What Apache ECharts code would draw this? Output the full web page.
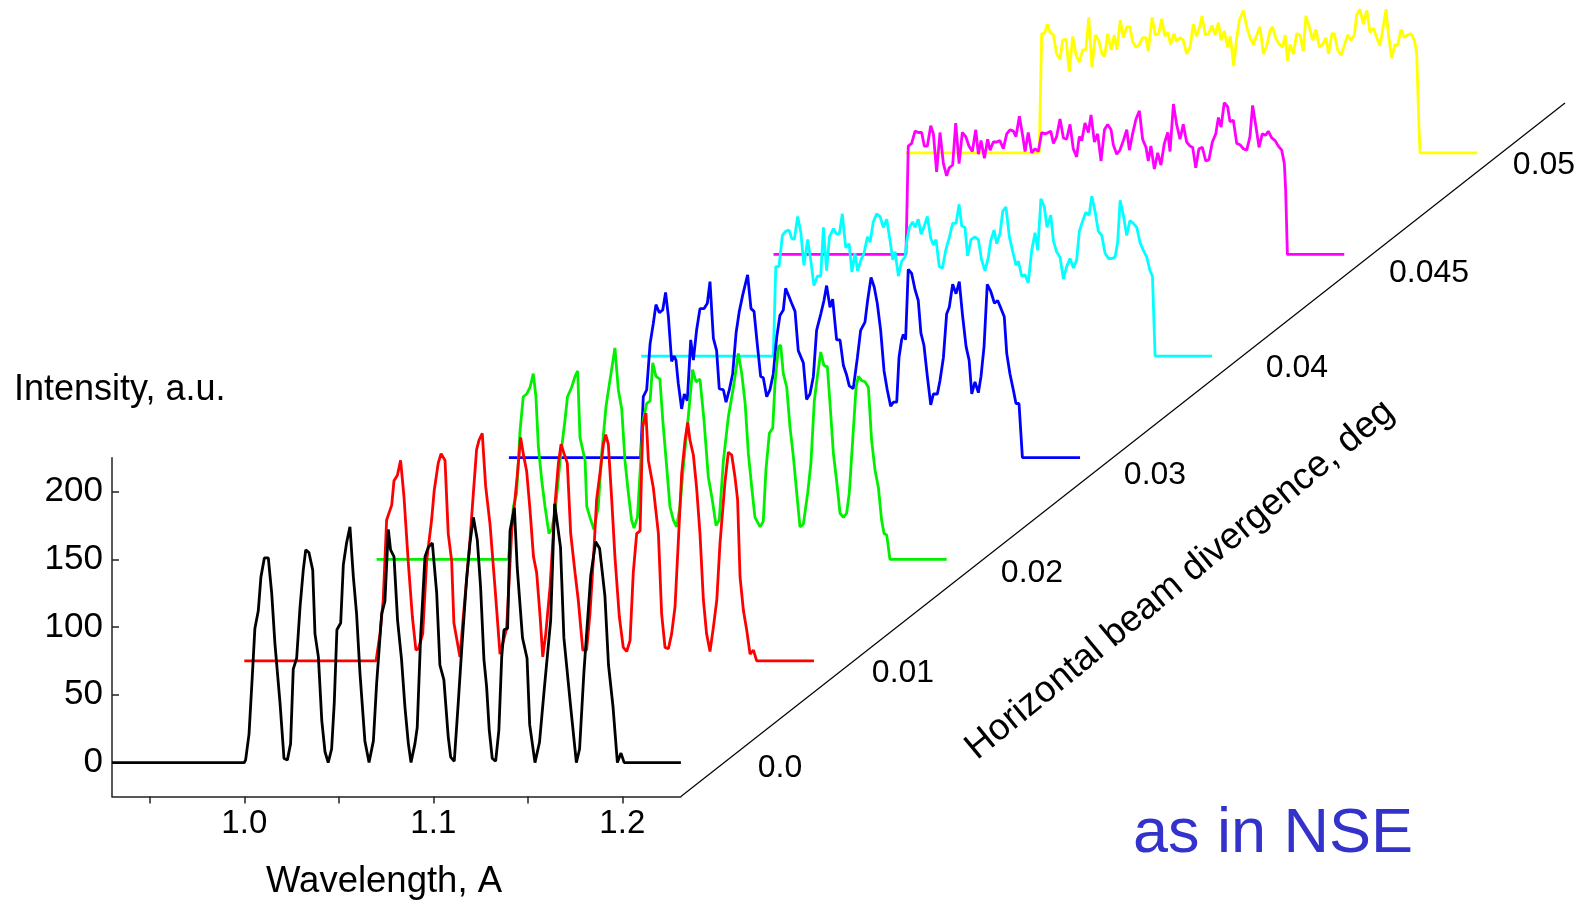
<!DOCTYPE html>
<html><head><meta charset="utf-8">
<script src="https://cdn.jsdelivr.net/npm/echarts@6/dist/echarts.min.js"></script>
<style>html,body{margin:0;padding:0;background:#fff}#c{width:1595px;height:904px}</style>
</head><body><div id="c"></div>
<script>
// ---- data (wavelength in A, intensity in a.u.), each curve in its own frame ----
const divergenceLabels = ['0.0','0.01','0.02','0.03','0.04','0.045','0.05'];
const xTickValues = [0.95,1.0,1.05,1.1,1.15,1.2];
const xLabelValues = [1.0,1.1,1.2];
const yTickValues = [0,50,100,150,200];

const div000 = [[0.93,0],[1.0,0],[1.0007,2],[1.0025,21],[1.0042,63],[1.0056,99],[1.0074,112],[1.0088,137],[1.0106,151],[1.0127,151],[1.0145,125],[1.0162,88],[1.0189,44],[1.021,3],[1.0228,2],[1.0245,14],[1.0259,69],[1.0277,77],[1.0295,115],[1.0312,142],[1.0325,157],[1.0342,155],[1.0362,142],[1.0374,95],[1.0392,78],[1.041,31],[1.0427,8],[1.0444,0],[1.0462,10],[1.0476,44],[1.049,98],[1.051,103],[1.0524,146],[1.0541,162],[1.0559,174],[1.0577,137],[1.0594,110],[1.0612,66],[1.0638,16],[1.066,0],[1.0683,16],[1.07,58],[1.0727,110],[1.0744,119],[1.0762,172],[1.0774,157],[1.0792,152],[1.0811,105],[1.0832,76],[1.085,41],[1.0868,14],[1.0882,0],[1.0903,14],[1.0915,26],[1.0933,93],[1.0956,152],[1.0974,159],[1.0995,162],[1.1018,125],[1.1035,72],[1.1056,61],[1.1079,19],[1.1092,4],[1.1111,1],[1.1132,44],[1.115,83],[1.1176,135],[1.1194,162],[1.1212,181],[1.1233,164],[1.125,130],[1.1268,76],[1.1282,56],[1.1296,24],[1.1312,3],[1.133,1],[1.1347,24],[1.1362,78],[1.1374,98],[1.1393,99],[1.1406,171],[1.1429,188],[1.1444,144],[1.1472,92],[1.1496,77],[1.151,28],[1.1538,0],[1.1562,15],[1.1585,51],[1.1621,105],[1.1642,191],[1.1673,159],[1.1691,92],[1.1727,41],[1.1757,0],[1.1774,10],[1.1797,67],[1.1833,138],[1.1859,163],[1.188,158],[1.1908,123],[1.1927,72],[1.1951,41],[1.1974,0],[1.1993,7],[1.201,0],[1.231,0]];

const div001 = [[0.93,0],[0.9997,0],[1.0018,20],[1.0035,45],[1.0053,104],[1.008,115],[1.0092,133],[1.011,137],[1.0127,148],[1.0145,121],[1.0168,72],[1.0189,33],[1.0208,8],[1.0221,9],[1.0244,20],[1.0265,74],[1.0291,104],[1.0305,126],[1.0326,146],[1.0341,153],[1.0362,148],[1.0379,94],[1.0397,74],[1.0409,28],[1.0441,3],[1.0459,33],[1.0476,60],[1.0494,89],[1.0512,124],[1.0529,156],[1.0542,163],[1.0559,168],[1.0577,129],[1.06,101],[1.0626,55],[1.0653,5],[1.0688,24],[1.0715,96],[1.0732,119],[1.0745,138],[1.0762,165],[1.0776,153],[1.0794,140],[1.0812,111],[1.083,77],[1.0847,65],[1.0865,33],[1.0879,3],[1.0895,20],[1.0918,55],[1.0944,116],[1.0962,146],[1.0976,160],[1.0992,153],[1.1009,146],[1.1027,94],[1.105,65],[1.1067,45],[1.1091,8],[1.1111,8],[1.1129,35],[1.115,82],[1.1164,119],[1.1186,143],[1.12,160],[1.1212,167],[1.1226,160],[1.1244,119],[1.1261,77],[1.1284,33],[1.1305,10],[1.1323,7],[1.1341,15],[1.1358,65],[1.1376,94],[1.1394,96],[1.1408,173],[1.1425,183],[1.1438,148],[1.1464,128],[1.1491,94],[1.1508,35],[1.1526,10],[1.1544,9],[1.1561,20],[1.1579,40],[1.1596,87],[1.1614,138],[1.1632,163],[1.1646,176],[1.1658,163],[1.1676,152],[1.1693,128],[1.1711,94],[1.1729,45],[1.1746,20],[1.1764,7],[1.1782,25],[1.18,45],[1.1817,87],[1.1844,133],[1.1861,154],[1.1879,152],[1.1896,136],[1.191,119],[1.1923,62],[1.1941,37],[1.1958,23],[1.1976,5],[1.1994,8],[1.2011,0],[1.2314,0]];

const div002 = [[0.93,0],[0.9997,0],[1.0024,39],[1.0041,49],[1.0059,95],[1.0076,120],[1.0094,122],[1.0112,127],[1.0129,137],[1.0143,120],[1.0156,83],[1.0174,58],[1.0191,39],[1.0212,19],[1.0226,22],[1.0244,34],[1.0271,73],[1.0297,103],[1.031,120],[1.0332,127],[1.035,135],[1.0364,139],[1.0376,90],[1.0403,73],[1.0412,39],[1.0429,31],[1.045,22],[1.0473,39],[1.0491,78],[1.0514,113],[1.053,128],[1.0549,145],[1.0561,156],[1.0579,125],[1.0597,111],[1.0614,73],[1.0632,49],[1.0649,29],[1.0662,23],[1.068,31],[1.0697,71],[1.0711,103],[1.0729,115],[1.0747,117],[1.0761,145],[1.0778,135],[1.0799,133],[1.0814,103],[1.0835,68],[1.0852,39],[1.087,29],[1.0888,24],[1.0905,39],[1.0926,73],[1.0949,105],[1.0972,140],[1.099,131],[1.1011,133],[1.1032,103],[1.1055,61],[1.1076,44],[1.1096,25],[1.1113,29],[1.1135,73],[1.1161,105],[1.1188,127],[1.1214,152],[1.1232,137],[1.125,115],[1.1267,78],[1.1285,53],[1.1302,31],[1.1329,24],[1.1346,28],[1.136,66],[1.1378,93],[1.1396,97],[1.1408,130],[1.1426,157],[1.1438,158],[1.1452,137],[1.147,127],[1.1487,98],[1.1505,76],[1.1523,49],[1.154,24],[1.1558,26],[1.1581,49],[1.1598,71],[1.1616,117],[1.1634,137],[1.165,153],[1.1667,143],[1.1685,142],[1.1699,115],[1.1717,78],[1.1734,58],[1.1752,34],[1.177,31],[1.1787,34],[1.1801,49],[1.1819,88],[1.1837,127],[1.1849,135],[1.1866,132],[1.1884,131],[1.1902,127],[1.1919,88],[1.1937,66],[1.1955,53],[1.1972,29],[1.1985,19],[1.1999,18],[1.2016,0],[1.2316,0]];

const div003 = [[0.93,0],[0.9997,0],[1.0011,45],[1.0029,50],[1.0047,84],[1.0064,99],[1.0078,113],[1.0096,107],[1.0114,109],[1.0129,122],[1.0144,104],[1.0161,71],[1.0174,75],[1.0184,72],[1.0196,55],[1.0214,36],[1.0228,47],[1.0244,42],[1.0262,87],[1.0276,72],[1.0293,94],[1.0311,110],[1.0332,110],[1.035,114],[1.0364,130],[1.0382,88],[1.0399,79],[1.0413,51],[1.0435,50],[1.0449,41],[1.0466,50],[1.0484,62],[1.0502,92],[1.0519,108],[1.0537,120],[1.0563,135],[1.0581,110],[1.0597,108],[1.0614,84],[1.0632,60],[1.0646,59],[1.0664,45],[1.0681,50],[1.0699,62],[1.0717,89],[1.0734,105],[1.0752,109],[1.0764,125],[1.0782,119],[1.0796,114],[1.0814,108],[1.0831,79],[1.0858,70],[1.0875,43],[1.0893,47],[1.0911,60],[1.0928,94],[1.095,106],[1.0967,116],[1.0981,127],[1.0999,111],[1.1013,117],[1.1034,87],[1.1052,87],[1.107,68],[1.1087,61],[1.1101,53],[1.1122,51],[1.1144,74],[1.1161,94],[1.1184,100],[1.1198,116],[1.1216,133],[1.1233,126],[1.1249,114],[1.1267,94],[1.1285,64],[1.1302,50],[1.132,38],[1.1334,41],[1.1352,41],[1.1364,74],[1.1378,87],[1.1387,91],[1.1399,87],[1.1413,139],[1.1431,136],[1.1449,124],[1.1466,116],[1.148,92],[1.1496,83],[1.1514,60],[1.1532,39],[1.1546,47],[1.1567,47],[1.1581,57],[1.1599,74],[1.1616,106],[1.163,111],[1.1648,128],[1.1666,121],[1.1683,130],[1.1701,104],[1.1719,82],[1.1735,72],[1.1749,47],[1.1766,56],[1.1784,48],[1.1798,60],[1.1814,82],[1.1831,128],[1.1849,123],[1.1869,114],[1.1886,116],[1.1904,110],[1.1921,104],[1.1934,77],[1.1951,62],[1.1969,50],[1.1983,40],[1.1999,40],[1.2017,0],[1.2322,0]];

const div004 = [[0.93,0],[0.9999,0],[1.0012,66],[1.0029,66],[1.0047,89],[1.0064,92],[1.0082,93],[1.0096,87],[1.011,86],[1.0128,103],[1.0144,92],[1.0161,67],[1.0181,86],[1.0197,71],[1.0214,52],[1.0232,59],[1.025,59],[1.0264,95],[1.0281,63],[1.0296,88],[1.0317,94],[1.0334,90],[1.0348,90],[1.0364,105],[1.0382,80],[1.04,83],[1.0415,62],[1.0431,76],[1.0445,63],[1.0463,71],[1.0479,76],[1.0497,88],[1.0511,84],[1.0528,99],[1.0546,105],[1.0564,103],[1.0581,95],[1.0599,101],[1.0617,85],[1.0631,71],[1.0643,77],[1.0661,59],[1.0678,70],[1.0696,73],[1.0705,85],[1.0719,95],[1.0736,99],[1.0749,95],[1.0766,101],[1.0781,90],[1.0798,96],[1.0814,103],[1.0832,87],[1.0846,82],[1.086,86],[1.0877,66],[1.0894,65],[1.0911,78],[1.0931,88],[1.0948,98],[1.0966,98],[1.0982,112],[1.0996,96],[1.1013,95],[1.1027,74],[1.1045,86],[1.1066,88],[1.1084,86],[1.1101,71],[1.1119,63],[1.1137,73],[1.1149,85],[1.1167,93],[1.1181,83],[1.1198,90],[1.1213,107],[1.123,110],[1.1248,88],[1.1266,77],[1.1283,67],[1.1296,70],[1.1313,59],[1.1331,60],[1.1348,54],[1.1366,78],[1.1384,91],[1.1398,78],[1.1415,116],[1.1433,110],[1.1447,95],[1.1467,104],[1.1481,85],[1.1498,77],[1.1516,73],[1.1534,57],[1.1551,66],[1.1569,72],[1.1587,65],[1.1604,71],[1.1618,92],[1.1634,99],[1.1652,106],[1.167,104],[1.1684,118],[1.1701,107],[1.1719,92],[1.1737,89],[1.1754,76],[1.1772,72],[1.179,72],[1.1807,73],[1.1821,84],[1.1834,115],[1.1851,104],[1.1869,89],[1.1886,100],[1.1904,98],[1.1922,95],[1.1939,84],[1.1957,78],[1.1975,73],[1.1992,63],[1.2005,59],[1.2019,0],[1.232,0]];

const div0045 = [[0.93,0],[1.0001,0],[1.0013,80],[1.0031,82],[1.0049,91],[1.0066,90],[1.0084,90],[1.0098,80],[1.0114,80],[1.0132,95],[1.0146,89],[1.0163,61],[1.0181,90],[1.0199,67],[1.0216,58],[1.023,64],[1.0248,66],[1.0264,97],[1.0282,67],[1.0299,90],[1.0317,87],[1.0334,80],[1.0352,76],[1.037,92],[1.0384,74],[1.0398,84],[1.0416,71],[1.0433,85],[1.0446,77],[1.0463,83],[1.0481,83],[1.0498,84],[1.0516,78],[1.0534,89],[1.0551,92],[1.0569,91],[1.0583,87],[1.0601,102],[1.0618,88],[1.0631,76],[1.0648,90],[1.0666,75],[1.0684,78],[1.0701,76],[1.0719,90],[1.0737,89],[1.0754,90],[1.0767,91],[1.0781,82],[1.0798,87],[1.0816,100],[1.0834,86],[1.0851,85],[1.0869,96],[1.0886,78],[1.0904,72],[1.0918,87],[1.0931,84],[1.0948,97],[1.0966,90],[1.098,103],[1.0998,83],[1.1015,89],[1.1033,69],[1.1051,92],[1.1068,96],[1.1086,92],[1.1098,81],[1.1116,74],[1.1133,77],[1.1151,84],[1.1169,92],[1.1183,77],[1.12,89],[1.1218,100],[1.1236,106],[1.1253,85],[1.1271,79],[1.1283,69],[1.1297,80],[1.1315,63],[1.1333,75],[1.135,66],[1.1368,82],[1.1386,90],[1.1398,76],[1.1416,111],[1.1433,96],[1.1451,85],[1.1468,96],[1.1486,83],[1.1504,80],[1.1518,79],[1.1534,64],[1.1551,78],[1.1569,79],[1.1587,69],[1.1604,70],[1.1622,83],[1.164,89],[1.1654,101],[1.1668,94],[1.1685,112],[1.1703,109],[1.1715,98],[1.1733,99],[1.1751,82],[1.1768,81],[1.1786,78],[1.1804,77],[1.1821,87],[1.1835,110],[1.1853,94],[1.1869,79],[1.1886,89],[1.1904,88],[1.1918,91],[1.1936,86],[1.1954,84],[1.1971,80],[1.1989,77],[1.2003,67],[1.201,47],[1.2019,0],[1.232,0]];

const div005 = [[0.93,0],[1.0006,0],[1.0019,88],[1.0033,88],[1.0049,95],[1.0063,89],[1.0081,87],[1.0098,73],[1.0116,69],[1.013,83],[1.0148,84],[1.0165,60],[1.0183,86],[1.0201,72],[1.0218,67],[1.0236,76],[1.0253,76],[1.0268,100],[1.0285,63],[1.0303,87],[1.0321,83],[1.0338,73],[1.0352,71],[1.0368,88],[1.0386,76],[1.0403,87],[1.0417,76],[1.0435,98],[1.0451,85],[1.0469,93],[1.0486,93],[1.05,82],[1.0518,78],[1.0536,80],[1.0553,85],[1.0571,85],[1.0583,75],[1.0603,100],[1.062,87],[1.0638,88],[1.0654,99],[1.0671,86],[1.0686,89],[1.0701,80],[1.0719,88],[1.0733,82],[1.0751,85],[1.0768,83],[1.0786,73],[1.0804,78],[1.0821,95],[1.0839,86],[1.0857,94],[1.0867,101],[1.0885,87],[1.0902,88],[1.092,94],[1.0936,87],[1.0954,96],[1.0968,83],[1.0985,90],[1.1003,78],[1.1017,86],[1.1035,64],[1.1051,85],[1.1065,98],[1.1086,105],[1.1104,93],[1.1121,85],[1.1139,80],[1.1157,87],[1.1174,93],[1.1192,73],[1.121,79],[1.1227,90],[1.1241,93],[1.1259,84],[1.1277,80],[1.1294,78],[1.1307,87],[1.1319,68],[1.1333,80],[1.1351,73],[1.1368,88],[1.1386,87],[1.1403,75],[1.1417,101],[1.1435,93],[1.1453,83],[1.147,91],[1.1488,78],[1.1506,80],[1.1523,85],[1.1537,73],[1.1555,88],[1.1567,88],[1.1585,76],[1.1603,72],[1.162,79],[1.1638,87],[1.1656,83],[1.1673,87],[1.1686,102],[1.1703,106],[1.1721,95],[1.1739,105],[1.1756,89],[1.1774,92],[1.1792,85],[1.1809,79],[1.1827,94],[1.1841,106],[1.1853,88],[1.1871,70],[1.1888,80],[1.1902,79],[1.192,91],[1.1938,85],[1.1955,87],[1.1973,88],[1.1991,83],[1.2003,74],[1.2015,19],[1.2021,0],[1.2324,0]];

const curves = [div000, div001, div002, div003, div004, div0045, div005];
const curveColors = ['#000000','#ff0000','#00f000','#0000ff','#00ffff','#ff00ff','#ffff00'];

// ---- layout / waterfall constants ----
const PX_X = 1890;          // px per A
const PX_Y = 1.355;         // px per a.u.
const X_MIN = 0.93, X_MAX = 1.231, Y_MIN = -25, Y_MAX = 225;
const STEP_X = 0.07, STEP_Y = 75;   // waterfall shift per curve
const LEFT = 112, BOTTOM_PX = 796.45;
const BIG_X_MAX = 1.71, BIG_Y_MAX = 560;
const FONT = '"Liberation Sans", Arial, sans-serif';
// pixel anchors of divergence labels along the floor edge (layout only)
const DIV_LABEL_PX = [[780,768],[903,673],[1032,573],[1155,475],[1297,368],[1429,273],[1544,165]];

const toBigX = px => X_MIN + (px - LEFT) / PX_X;
const toBigY = py => Y_MIN + (BOTTOM_PX - py) / PX_Y;

const series = [];
for (let k = curves.length - 1; k >= 0; k--) {
  const shifted = curves[k].map(p => [p[0] + k * STEP_X, p[1] + k * STEP_Y]);
  series.push({
    type: 'line', xAxisIndex: k === 0 ? 0 : 1, yAxisIndex: k === 0 ? 0 : 1,
    data: shifted, symbol: 'none', showSymbol: false, clip: false, silent: true,
    lineStyle: { color: curveColors[k], width: 2.8 }, z: 3
  });
}
// floor edge (divergence axis)
series.push({
  type: 'line', xAxisIndex: 1, yAxisIndex: 1, symbol: 'none', silent: true, clip: false,
  data: [[X_MAX, Y_MIN], [toBigX(1565), toBigY(103)]],
  lineStyle: { color: '#000', width: 1.2 }, z: 2
});
// divergence tick labels
series.push({
  type: 'scatter', xAxisIndex: 1, yAxisIndex: 1, silent: true, symbol: 'circle', symbolSize: 2,
  itemStyle: { color: 'rgba(255,255,255,0)' },
  label: { show: true, position: 'inside', fontSize: 32, fontFamily: FONT, color: '#000', opacity: 1,
           textBorderWidth: 0, textShadowBlur: 0,
           formatter: p => divergenceLabels[p.dataIndex] },
  data: divergenceLabels.map((t, i) => [toBigX(DIV_LABEL_PX[i][0]), toBigY(DIV_LABEL_PX[i][1])]),
  z: 4
});

const axisLineStyle = { color: '#222', width: 1.5 };
const option = {
  animation: false,
  backgroundColor: '#fff',
  grid: [
    { left: LEFT, top: BOTTOM_PX - (Y_MAX - Y_MIN) * PX_Y, width: (X_MAX - X_MIN) * PX_X, height: (Y_MAX - Y_MIN) * PX_Y, outerBoundsMode: 'none', containLabel: false },
    { left: LEFT, top: BOTTOM_PX - (BIG_Y_MAX - Y_MIN) * PX_Y, width: (BIG_X_MAX - X_MIN) * PX_X, height: (BIG_Y_MAX - Y_MIN) * PX_Y, outerBoundsMode: 'none', containLabel: false }
  ],
  xAxis: [
    { gridIndex: 0, type: 'value', min: X_MIN, max: X_MAX,
      axisLine: { show: true, onZero: false, lineStyle: axisLineStyle },
      axisTick: { show: true, inside: false, length: 7, customValues: xTickValues, lineStyle: axisLineStyle },
      axisLabel: { show: true, customValues: xLabelValues, formatter: v => v.toFixed(1), fontSize: 33, fontFamily: FONT, color: '#000', margin: 11 },
      splitLine: { show: false } },
    { gridIndex: 1, type: 'value', min: X_MIN, max: BIG_X_MAX, show: false }
  ],
  yAxis: [
    { gridIndex: 0, type: 'value', min: Y_MIN, max: Y_MAX,
      axisLine: { show: true, onZero: false, lineStyle: axisLineStyle },
      axisTick: { show: true, inside: true, length: 7, customValues: yTickValues, lineStyle: axisLineStyle },
      axisLabel: { show: true, customValues: yTickValues, fontSize: 35, fontFamily: FONT, color: '#000', margin: 9 },
      splitLine: { show: false } },
    { gridIndex: 1, type: 'value', min: Y_MIN, max: BIG_Y_MAX, show: false }
  ],
  graphic: [
    { type: 'text', x: 14, y: 390, style: { text: 'Intensity, a.u.', fontSize: 36, fontFamily: FONT, fill: '#000', align: 'left', verticalAlign: 'middle' } },
    { type: 'text', x: 384, y: 882, style: { text: 'Wavelength, A', fontSize: 36.5, fontFamily: FONT, fill: '#000', align: 'center', verticalAlign: 'middle' } },
    { type: 'text', x: 1180, y: 580, rotation: 39.5 * Math.PI / 180, style: { text: 'Horizontal beam divergence, deg', fontSize: 37, fontFamily: FONT, fill: '#000', align: 'center', verticalAlign: 'middle' } },
    { type: 'text', x: 1133, y: 835, style: { text: 'as in NSE', fontSize: 63, fontFamily: FONT, fill: '#3333cc', align: 'left', verticalAlign: 'middle' } }
  ],
  series: series
};
const chart = echarts.init(document.getElementById('c'), null, { renderer: 'canvas' });
chart.setOption(option);
</script>
</body></html>
